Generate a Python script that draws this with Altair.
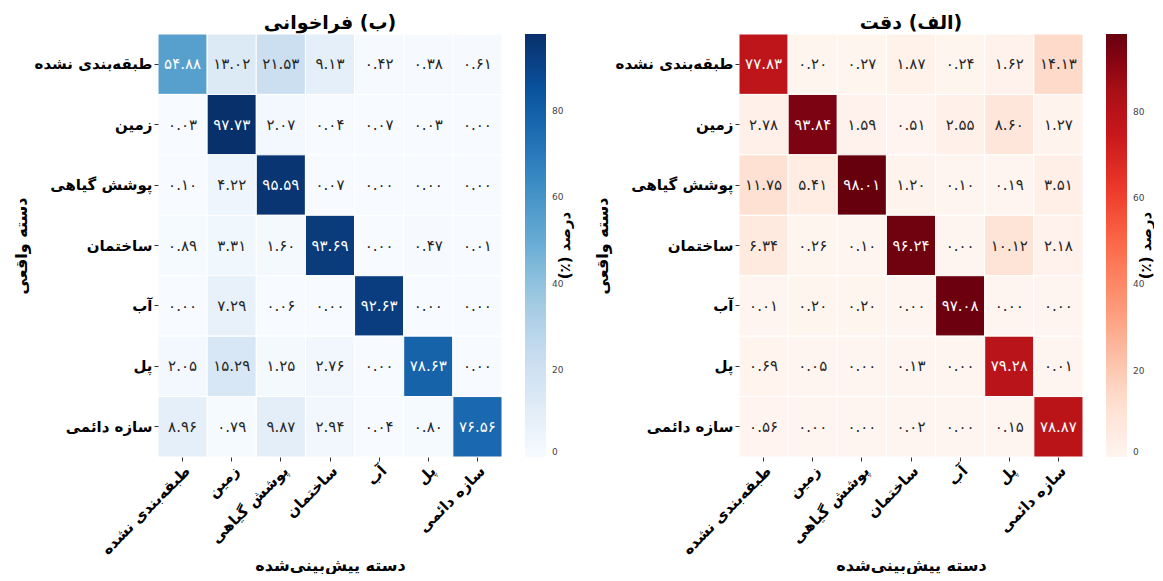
import altair as alt
import pandas as pd

FONT = "DejaVu Sans"
RLM = "\u200f"

categories = ["طبقه\u200cبندی نشده", "زمین", "پوشش گیاهی", "ساختمان", "آب", "پل", "سازه دائمی"]

# Recall (row = true class, column = predicted class)
recall_unclassified = [54.88, 13.02, 21.53, 9.13, 0.42, 0.38, 0.61]
recall_ground = [0.03, 97.73, 2.07, 0.04, 0.07, 0.03, 0.00]
recall_vegetation = [0.10, 4.22, 95.59, 0.07, 0.00, 0.00, 0.00]
recall_building = [0.89, 3.31, 1.60, 93.69, 0.00, 0.47, 0.01]
recall_water = [0.00, 7.29, 0.06, 0.00, 92.63, 0.00, 0.00]
recall_bridge = [2.05, 15.29, 1.25, 2.76, 0.00, 78.63, 0.00]
recall_structure = [8.96, 0.79, 9.87, 2.94, 0.04, 0.80, 76.56]

# Precision
precision_unclassified = [77.83, 0.20, 0.27, 1.87, 0.24, 1.62, 14.13]
precision_ground = [2.78, 93.84, 1.59, 0.51, 2.55, 8.60, 1.27]
precision_vegetation = [11.75, 5.41, 98.01, 1.20, 0.10, 0.19, 3.51]
precision_building = [6.34, 0.26, 0.10, 96.24, 0.00, 10.12, 2.18]
precision_water = [0.01, 0.20, 0.20, 0.00, 97.08, 0.00, 0.00]
precision_bridge = [0.69, 0.05, 0.00, 0.13, 0.00, 79.28, 0.01]
precision_structure = [0.56, 0.00, 0.00, 0.02, 0.00, 0.15, 78.87]

recall_rows = [recall_unclassified, recall_ground, recall_vegetation, recall_building,
               recall_water, recall_bridge, recall_structure]
precision_rows = [precision_unclassified, precision_ground, precision_vegetation, precision_building,
                  precision_water, precision_bridge, precision_structure]

blues = ["#f7fbff", "#deebf7", "#c6dbef", "#9ecae1", "#6baed6", "#4292c6", "#2171b5", "#08519c", "#08306b"]
reds = ["#fff5f0", "#fee0d2", "#fcbba1", "#fc9272", "#fb6a4a", "#ef3b2c", "#cb181d", "#a50f15", "#67000d"]

PERSIAN = str.maketrans("0123456789", "۰۱۲۳۴۵۶۷۸۹")


def long_df(rows):
    recs = []
    for i, row in enumerate(rows):
        for j, v in enumerate(row):
            recs.append({"true": categories[i], "pred": categories[j], "value": v,
                         "label": f"{v:.2f}".translate(PERSIAN)})
    return pd.DataFrame(recs)


W, H = 344, 423


def panel(rows, colors, title):
    df = long_df(rows)
    vmax = max(max(r) for r in rows)
    base = alt.Chart(df)
    x = alt.X("pred:N", sort=categories, scale=alt.Scale(paddingInner=0, paddingOuter=0),
              axis=alt.Axis(title="دسته پیش\u200cبینی\u200cشده", labelAngle=-45, labelAlign="right",
                            labelBaseline="top", labelFont=FONT, labelFontSize=15, labelFontWeight="bold",
                            labelColor="black", titleFont=FONT, titleFontSize=16, titleFontWeight="bold",
                            titleColor="black", domain=False, tickSize=4, tickColor="#333",
                            labelPadding=2, titlePadding=0))
    y = alt.Y("true:N", sort=categories, scale=alt.Scale(paddingInner=0, paddingOuter=0),
              axis=alt.Axis(title="دسته واقعی", labelFont=FONT, labelFontSize=15, labelFontWeight="bold",
                            labelColor="black", titleFont=FONT, titleFontSize=16, titleFontWeight="bold",
                            titleColor="black", domain=False, tickSize=4, tickColor="#333",
                            labelPadding=2, titlePadding=5))
    rect = base.mark_rect(stroke="white", strokeWidth=1).encode(
        x=x, y=y,
        color=alt.Color("value:Q", scale=alt.Scale(domain=[0, vmax], range=colors, type="linear"),
                        legend=alt.Legend(title=None, direction="vertical", gradientLength=H,
                                          gradientThickness=21, offset=23, labelFontSize=9,
                                          labelColor="#444", tickCount=5, labelFont=FONT,
                                          gradientStrokeWidth=0, labelOffset=6))
    )
    text = base.mark_text(font=FONT, fontSize=15).encode(
        x=alt.X("pred:N", sort=categories),
        y=alt.Y("true:N", sort=categories),
        text="label:N",
        color=alt.condition(alt.datum.value > 45, alt.value("white"), alt.value("#262626")),
    )
    cb = alt.Chart(pd.DataFrame({"t": [RLM + "درصد (٪)" + RLM]})).mark_text(
        angle=270, font=FONT, fontSize=15, fontWeight="bold", color="black", align="center", baseline="middle"
    ).encode(x=alt.value(W + 63), y=alt.value(H / 2), text="t:N")
    return alt.layer(rect, text, cb).properties(
        width=W, height=H,
        title=alt.TitleParams(text=RLM + title + RLM, font=FONT, fontSize=19, fontWeight="bold",
                              color="black", anchor="middle", offset=1),
    )


left = panel(recall_rows, blues, "(ب) فراخوانی")
right = panel(precision_rows, reds, "(الف) دقت")

chart = alt.hconcat(left, right, spacing=21).resolve_scale(color="independent").resolve_legend(
    color="independent").configure_view(stroke=None).properties(
    background="white", padding={"left": 5, "top": 5, "right": 0, "bottom": 0})

chart.save("out.html", embed_options={"renderer": "svg", "actions": False})
